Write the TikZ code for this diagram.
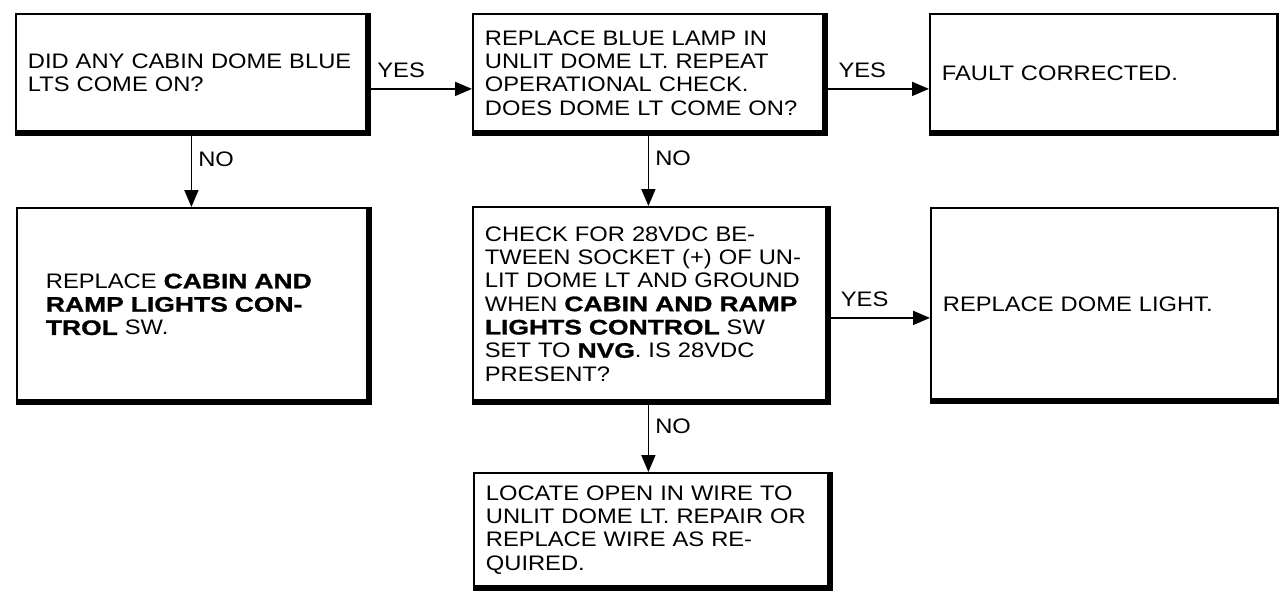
\documentclass[tikz,border=0pt]{standalone}
\usepackage{fontspec}
\setmainfont{Liberation Sans}[FakeStretch=1.13, BoldFeatures={FakeStretch=1.26, FakeBold=1.2}]
\usepackage{tikz}
\usetikzlibrary{arrows.meta,positioning}

\newcommand{\chartfont}{\fontsize{10.5}{11.65}\selectfont}
\tikzset{
  stepbox/.style={draw, line width=0.9pt, anchor=north west, inner xsep=6pt,
    inner ysep=3pt, align=left, font=\chartfont},
  edgeline/.style={line width=2.8pt},
  flow/.style={-{Triangle[length=8.5pt,width=7pt]}, line width=0.9pt},
  tag/.style={font=\chartfont, inner sep=2pt}
}

\begin{document}
\begin{tikzpicture}[x=0.5pt,y=-0.5pt]
\useasboundingbox (0,0) rectangle (1279,590);

% Top row
\node[stepbox, minimum width=175.5pt, minimum height=59pt, text width=163.5pt]
  (dome) at (15,13) {DID ANY CABIN DOME BLUE\\LTS COME ON?};
\node[stepbox, minimum width=175.5pt, minimum height=59pt, text width=163.5pt]
  (lamp) at (472,13) {REPLACE BLUE LAMP IN\\UNLIT DOME LT. REPEAT\\OPERATIONAL CHECK.\\DOES DOME LT COME ON?};
\node[stepbox, minimum width=174pt, minimum height=59pt, text width=162pt]
  (fixed) at (929,13) {FAULT CORRECTED.};

% Middle row
\node[stepbox, inner xsep=14.5pt, minimum width=175.5pt, minimum height=96.5pt, text width=146.5pt]
  (swrep) at (16,207) {REPLACE \textbf{CABIN AND}\\\textbf{RAMP LIGHTS CON-}\\\textbf{TROL} SW.};
\node[stepbox, minimum width=177pt, minimum height=97pt, text width=165pt]
  (volt) at (472,206) {CHECK FOR 28VDC BE-\\TWEEN SOCKET (+) OF UN-\\LIT DOME LT AND GROUND\\WHEN \textbf{CABIN AND RAMP}\\\textbf{LIGHTS CONTROL} SW\\SET TO \textbf{NVG}. IS 28VDC\\PRESENT?};
\node[stepbox, minimum width=174pt, minimum height=96pt, text width=162pt]
  (lamprep) at (930,207) {REPLACE DOME LIGHT.};

% Bottom row
\node[stepbox, minimum width=177.5pt, minimum height=57pt, text width=165.5pt]
  (wire) at (473,472) {LOCATE OPEN IN WIRE TO\\UNLIT DOME LT. REPAIR OR\\REPLACE WIRE AS RE-\\QUIRED.};

% Heavy right and bottom edges
\foreach \n in {dome,lamp,fixed,swrep,volt,lamprep,wire}
  \draw[edgeline] (\n.north east) -- (\n.south east) -- (\n.south west);

% Connectors
\draw[flow] ([yshift=-8pt]dome.east) -- ([yshift=-8pt]lamp.west)
  node[tag, above=3pt, pos=0.32] {YES};
\draw[flow] ([yshift=-8pt]lamp.east) -- ([yshift=-8pt]fixed.west)
  node[tag, above=3pt, pos=0.36] {YES};
\draw[flow] ([yshift=-7pt]volt.east) -- ([yshift=-7pt]lamprep.west)
  node[tag, above=3pt, pos=0.36] {YES};
\draw[flow] (dome.south) -- (dome.south |- swrep.north)
  node[tag, right=1pt, pos=0.35] {NO};
\draw[flow] (lamp.south) -- (lamp.south |- volt.north)
  node[tag, right=1pt, pos=0.35] {NO};
\draw[flow] (lamp.south |- volt.south) -- (lamp.south |- wire.north)
  node[tag, right=1pt, pos=0.35] {NO};
\end{tikzpicture}
\end{document}
